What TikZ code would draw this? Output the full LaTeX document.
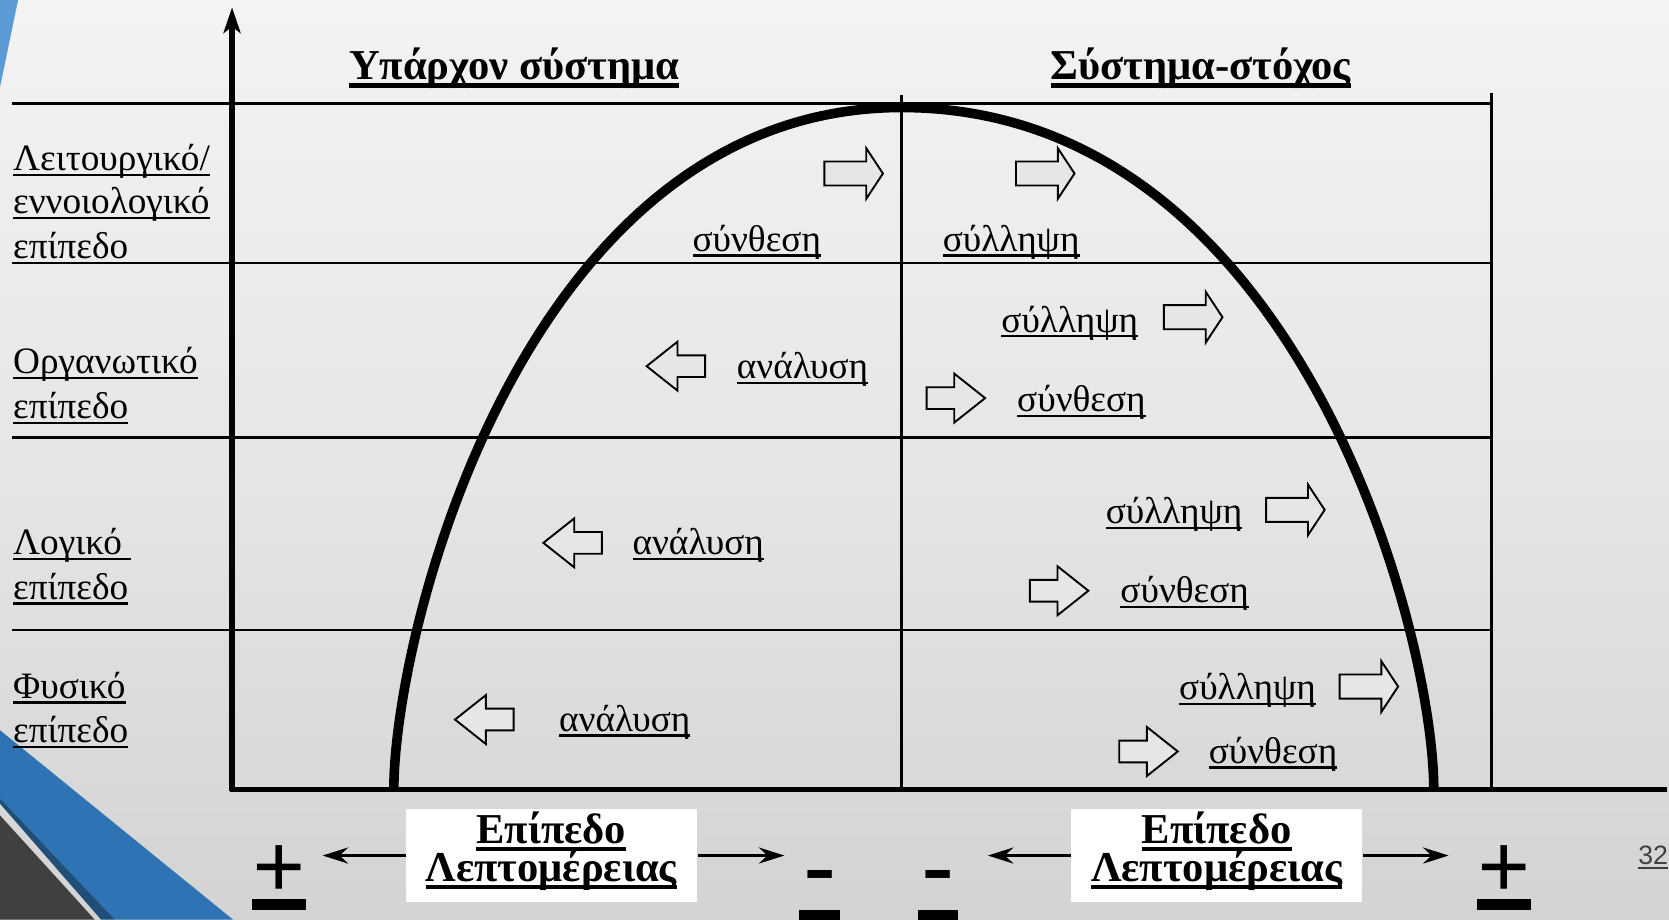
\documentclass[tikz,border=0pt]{standalone}
\usepackage{fontspec}
\setmainfont{Liberation Serif}
\newfontfamily\sansf{Liberation Sans}
\usetikzlibrary{arrows.meta}
\newsavebox\ulbox
\newcommand\ulx[3]{\sbox\ulbox{#3}\rlap{\usebox\ulbox}\rule[-#1]{\wd\ulbox}{#2}}
\newcommand\ut[1]{\ulx{2.5pt}{1pt}{#1}}
\newcommand\ub[1]{\ulx{3.6pt}{1.8pt}{#1}}
\newcommand\uh[1]{\ulx{3.6pt}{2.1pt}{#1}}
\definecolor{bgtop}{HTML}{F3F3F3}
\definecolor{bgmid}{HTML}{E6E6E6}
\definecolor{bgbot}{HTML}{D3D3D3}
\definecolor{lblue}{HTML}{5B9BD5}
\definecolor{mblue}{HTML}{2E74B5}
\definecolor{dblue}{HTML}{1F4E79}
\definecolor{dgray}{HTML}{404040}
\definecolor{afill}{HTML}{E6E6E6}
\tikzset{
  thinline/.style={line width=1.2pt},
  axisline/.style={line width=2.5pt},
  arcline/.style={line width=4.5pt},
  ashape/.style={draw=black, line width=0.9pt, fill=afill, line join=miter},
  rshort/.pic={\draw[ashape] (-27.5,-11.3) -- (11.8,-11.3) -- (11.8,-23.8) -- (27.5,0) -- (11.8,23.8) -- (11.8,11.3) -- (-27.5,11.3) -- cycle;},
  rlong/.pic={\draw[ashape] (-27.5,-10.2) -- (-1.5,-10.2) -- (-1.5,-23) -- (27.5,0) -- (-1.5,23) -- (-1.5,10.2) -- (-27.5,10.2) -- cycle;},
  lbl/.style={font=\fontsize{17.5}{20}\selectfont, inner sep=0pt, anchor=base west},
  cell/.style={font=\fontsize{17.5}{20}\selectfont, inner sep=0pt, anchor=base},
  ttl/.style={font=\fontsize{20}{24}\selectfont\bfseries, inner sep=0pt, anchor=base},
  boxtxt/.style={font=\fontsize{20}{22}\selectfont\bfseries, inner sep=0pt, anchor=base},
  wbox/.style={fill=white, draw=none, minimum width=136.75pt, minimum height=43.75pt, inner sep=0pt},
  sign/.style={font=\fontsize{44}{44}\selectfont\bfseries, inner sep=0pt, anchor=base},
  darrow/.style={line width=1.8pt, -{Stealth[length=12pt,width=7.5pt,inset=4pt]}},
}
\begin{document}
\begin{tikzpicture}[x=0.5pt,y=-0.5pt]
\useasboundingbox (0,0) rectangle (1568,864);
% background
\shade[top color=bgtop, bottom color=bgbot, middle color=bgmid] (0,0) rectangle (1568,864);
% decorations
\fill[lblue] (0,0) -- (17,0) -- (0,82) -- cycle;
\fill[mblue] (0,686) -- (219,864) -- (108,864) -- (0,750) -- cycle;
\fill[dblue] (0,750) -- (108,864) -- (95,864) -- (0,755) -- cycle;
\fill[dgray] (0,766) -- (89,864) -- (0,864) -- cycle;
% grid
\draw[thinline] (11,97) -- (1401,97);
\draw[thinline] (11,247) -- (1401,247);
\draw[thinline] (11,411) -- (1401,411);
\draw[thinline] (11,592) -- (1401,592);
\draw[thinline] (847,89) -- (847,742);
\draw[thinline] (1401,87) -- (1401,742);
% axes
\draw[axisline] (216,742) -- (1566,742);
\draw[axisline, -{Stealth[length=12pt,width=8pt,inset=3pt]}] (218,743) -- (218,7);
% arc
\draw[arcline] (370,742) .. controls (370,592) and (494,101) .. (847,101) .. controls (1217,101) and (1347,592) .. (1347,742);
% titles
\node[ttl] (t1) at (483,75) {\uh{Υπάρχον σύστημα}};
\node[ttl] (t2) at (1128,75) {\uh{Σύστημα-στόχος}};
% left labels
\node[lbl] (l1a) at (12,160) {\ut{Λειτουργικό/}};
\node[lbl] (l1b) at (12,201) {\ut{εννοιολογικό}};
\node[lbl] (l1c) at (12,243) {\ut{επίπεδο}};
\node[lbl] (l2a) at (12,351) {\ut{Οργανωτικό}};
\node[lbl] (l2b) at (12,393) {\ut{επίπεδο}};
\node[lbl] (l3a) at (12,521) {\ut{Λογικό }};
\node[lbl] (l3b) at (12,563) {\ut{επίπεδο}};
\node[lbl] (l4a) at (12,656) {\ut{Φυσικό}};
\node[lbl] (l4b) at (12,698) {\ut{επίπεδο}};
% cell texts
\node[cell] (c1a) at (711,236) {\ut{σύνθεση}};
\node[cell] (c1b) at (950,236) {\ut{σύλληψη}};
\node[cell] (c2a) at (754,356) {\ut{ανάλυση}};
\node[cell] (c2b) at (1005,312) {\ut{σύλληψη}};
\node[cell] (c2c) at (1016,387) {\ut{σύνθεση}};
\node[cell] (c3a) at (656,521) {\ut{ανάλυση}};
\node[cell] (c3b) at (1103,492) {\ut{σύλληψη}};
\node[cell] (c3c) at (1113,566) {\ut{σύνθεση}};
\node[cell] (c4a) at (587,687) {\ut{ανάλυση}};
\node[cell] (c4b) at (1172,657) {\ut{σύλληψη}};
\node[cell] (c4c) at (1196,717) {\ut{σύνθεση}};
% block arrows
\pic at (802,163) {rshort};
\pic at (982,163) {rshort};
\pic[rotate=180] at (635,344) {rlong};
\pic at (1121,298) {rshort};
\pic at (898,374) {rlong};
\pic[rotate=180] at (538,510) {rlong};
\pic at (1217,479) {rshort};
\pic at (995,555) {rlong};
\pic[rotate=180] at (455,676) {rlong};
\pic at (1286,645) {rshort};
\pic at (1079,706) {rlong};
% bottom boxes
\node[wbox] (box1) at (518.25,803.75) {};
\node[wbox] (box2) at (1143,803.75) {};
\node[boxtxt] (b1a) at (518,792) {\ub{Επίπεδο}};
\node[boxtxt] (b1b) at (518,828) {\ub{Λεπτομέρειας}};
\node[boxtxt] (b2a) at (1143,792) {\ub{Επίπεδο}};
\node[boxtxt] (b2b) at (1143,828) {\ub{Λεπτομέρειας}};
% signs
\node[sign] (s1) at (262,844) {\ulx{5.5pt}{5pt}{+}};
\node[sign] (s2) at (770,842) {\ulx{11pt}{4.5pt}{\makebox[19pt]{-}}};
\node[sign] (s3) at (881,842) {\ulx{11pt}{4.5pt}{\makebox[19pt]{-}}};
\node[sign] (s4) at (1413,844) {\ulx{5.5pt}{5pt}{+}};
\coordinate (p1) at (303,803.75);
\coordinate (p2) at (737,803.75);
\coordinate (p3) at (928,803.75);
\coordinate (p4) at (1361,803.75);
\draw[darrow] (box1.west) -- (p1);
\draw[darrow] (box1.east) -- (p2);
\draw[darrow] (box2.west) -- (p3);
\draw[darrow] (box2.east) -- (p4);
% page number
\node[font=\sansf\fontsize{12.5}{14}\selectfont, text=black!75, inner sep=0pt, anchor=base] (pg) at (1553,812) {\ulx{2pt}{0.7pt}{32}};
\end{tikzpicture}
\end{document}
